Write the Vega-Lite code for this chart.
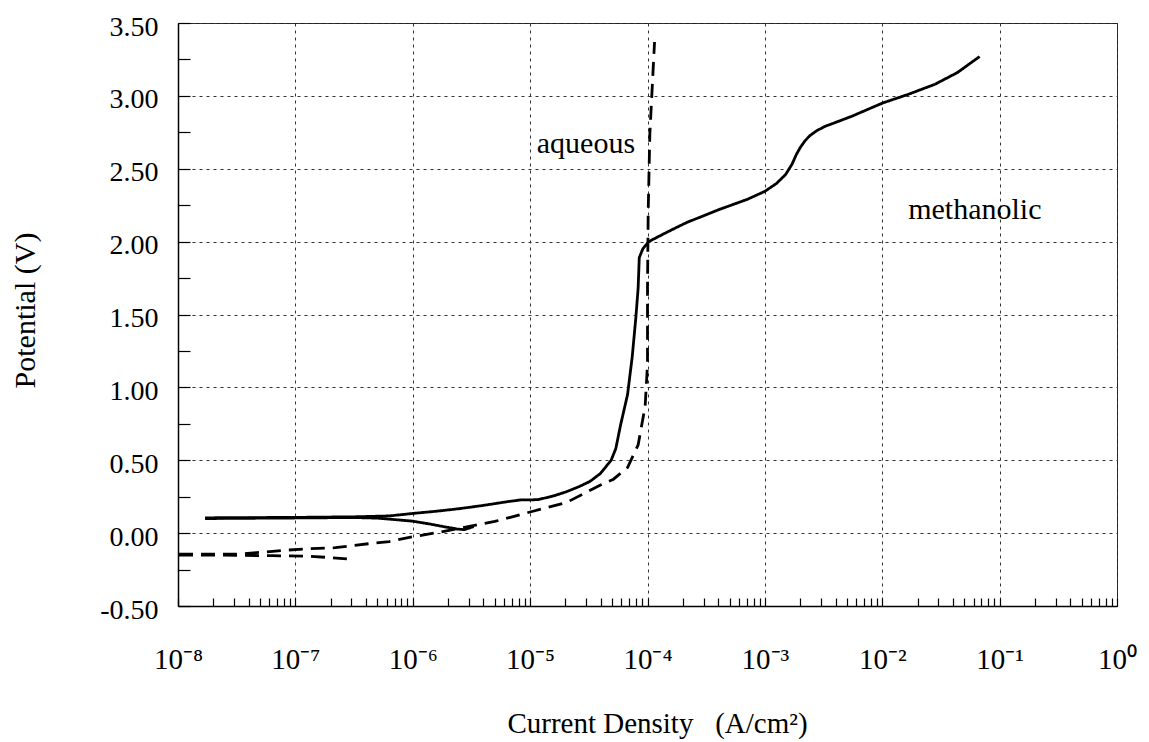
{
  "$schema": "https://vega.github.io/schema/vega-lite/v6.json",
  "width": 939,
  "height": 583,
  "autosize": {"type": "none"},
  "padding": {"left": 178, "top": 23, "right": 32, "bottom": 136},
  "background": "white",
  "config": {"font": "Liberation Serif", "view": {"stroke": "#222", "strokeWidth": 1}},
  "encoding": {
    "x": {
      "field": "current", "type": "quantitative",
      "scale": {"type": "log", "domain": [1e-8, 1], "nice": false},
      "axis": {
        "values": [1e-8,2e-8,3e-8,4e-8,5e-8,6e-8,7e-8,8e-8,9e-8,1e-7,2e-7,3e-7,4e-7,5e-7,6e-7,7e-7,8e-7,9e-7,1e-6,2e-6,3e-6,4e-6,5e-6,6e-6,7e-6,8e-6,9e-6,1e-5,2e-5,3e-5,4e-5,5e-5,6e-5,7e-5,8e-5,9e-5,1e-4,2e-4,3e-4,4e-4,5e-4,6e-4,7e-4,8e-4,9e-4,1e-3,2e-3,3e-3,4e-3,5e-3,6e-3,7e-3,8e-3,9e-3,1e-2,2e-2,3e-2,4e-2,5e-2,6e-2,7e-2,8e-2,9e-2,1e-1,2e-1,3e-1,4e-1,5e-1,6e-1,7e-1,8e-1,9e-1,1],
        "tickSize": -8, "tickColor": "black", "tickWidth": 1.2,
        "labelExpr": "abs(log(datum.value)/LN10 - round(log(datum.value)/LN10)) < 1e-6 ? '10' + (round(log(datum.value)/LN10) < 0 ? '⁻' : '') + ['⁰','¹','²','³','⁴','⁵','⁶','⁷','⁸','⁹'][abs(round(log(datum.value)/LN10))] : ''",
        "labelFontSize": 29, "labelBaseline": "alphabetic", "labelPadding": 70, "labelColor": "black",
        "labelFlush": false, "labelOverlap": false,
        "grid": true, "gridDash": [3, 4], "gridColor": "#333", "gridWidth": 1,
        "gridOpacity": {"condition": {"test": "abs(log(datum.value)/LN10 - round(log(datum.value)/LN10)) < 1e-6", "value": 1}, "value": 0},
        "domainColor": "black", "domainWidth": 1.5,
        "title": "Current Density\u00a0\u00a0\u00a0(A/cm²)",
        "titleFontSize": 29, "titleFontWeight": "normal", "titleColor": "black",
        "titleX": 479, "titleY": 126, "titleAlign": "center", "titleBaseline": "alphabetic"
      }
    },
    "y": {
      "field": "potential", "type": "quantitative",
      "scale": {"domain": [-0.5, 3.5], "nice": false, "zero": false},
      "axis": {
        "values": [-0.5,-0.25,0,0.25,0.5,0.75,1,1.25,1.5,1.75,2,2.25,2.5,2.75,3,3.25,3.5],
        "tickSize": -12, "tickColor": "black", "tickWidth": 1.2,
        "labelExpr": "(datum.value*4) % 2 == 0 ? (datum.value < 0 ? '-' : '') + format(abs(datum.value), '.2f') : ''",
        "labelFontSize": 28, "labelPadding": 32, "labelOffset": 4, "labelColor": "black",
        "labelFlush": false, "labelOverlap": false,
        "grid": true, "gridDash": [3, 4], "gridColor": "#333", "gridWidth": 1,
        "gridOpacity": {"condition": {"test": "(datum.value*4) % 2 == 0", "value": 1}, "value": 0},
        "domainColor": "black", "domainWidth": 1.5,
        "title": "Potential (V)",
        "titleFontSize": 30, "titleFontWeight": "normal", "titleColor": "black",
        "titleAngle": -90, "titleX": -153, "titleY": 287, "titleAlign": "center", "titleBaseline": "middle"
      }
    }
  },
  "layer": [
    {
      "data": {"values": [
        {"branch": "m1", "medium": "methanolic", "i": 1, "current": 1.70e-8, "potential": 0.105},
        {"branch": "m1", "medium": "methanolic", "i": 2, "current": 1.0e-7, "potential": 0.108},
        {"branch": "m1", "medium": "methanolic", "i": 3, "current": 3.16e-7, "potential": 0.112},
        {"branch": "m1", "medium": "methanolic", "i": 4, "current": 6.31e-7, "potential": 0.118},
        {"branch": "m1", "medium": "methanolic", "i": 5, "current": 1.0e-6, "potential": 0.135},
        {"branch": "m1", "medium": "methanolic", "i": 6, "current": 1.58e-6, "potential": 0.150},
        {"branch": "m1", "medium": "methanolic", "i": 7, "current": 2.51e-6, "potential": 0.168},
        {"branch": "m1", "medium": "methanolic", "i": 8, "current": 3.98e-6, "potential": 0.19},
        {"branch": "m1", "medium": "methanolic", "i": 9, "current": 6.31e-6, "potential": 0.215},
        {"branch": "m1", "medium": "methanolic", "i": 10, "current": 8.32e-6, "potential": 0.228},
        {"branch": "m1", "medium": "methanolic", "i": 11, "current": 1.0e-5, "potential": 0.228},
        {"branch": "m1", "medium": "methanolic", "i": 12, "current": 1.17e-5, "potential": 0.230},
        {"branch": "m1", "medium": "methanolic", "i": 13, "current": 1.58e-5, "potential": 0.255},
        {"branch": "m1", "medium": "methanolic", "i": 14, "current": 2.04e-5, "potential": 0.284},
        {"branch": "m1", "medium": "methanolic", "i": 15, "current": 2.63e-5, "potential": 0.32},
        {"branch": "m1", "medium": "methanolic", "i": 16, "current": 3.24e-5, "potential": 0.355},
        {"branch": "m1", "medium": "methanolic", "i": 17, "current": 3.98e-5, "potential": 0.41},
        {"branch": "m1", "medium": "methanolic", "i": 18, "current": 4.90e-5, "potential": 0.50},
        {"branch": "m1", "medium": "methanolic", "i": 19, "current": 5.37e-5, "potential": 0.58},
        {"branch": "m1", "medium": "methanolic", "i": 20, "current": 5.89e-5, "potential": 0.74},
        {"branch": "m1", "medium": "methanolic", "i": 21, "current": 6.76e-5, "potential": 0.95},
        {"branch": "m1", "medium": "methanolic", "i": 22, "current": 7.41e-5, "potential": 1.21},
        {"branch": "m1", "medium": "methanolic", "i": 23, "current": 7.94e-5, "potential": 1.47},
        {"branch": "m1", "medium": "methanolic", "i": 24, "current": 8.32e-5, "potential": 1.68},
        {"branch": "m1", "medium": "methanolic", "i": 25, "current": 8.51e-5, "potential": 1.89},
        {"branch": "m1", "medium": "methanolic", "i": 26, "current": 9.12e-5, "potential": 1.95},
        {"branch": "m1", "medium": "methanolic", "i": 27, "current": 1.023e-4, "potential": 2.00},
        {"branch": "m1", "medium": "methanolic", "i": 28, "current": 1.51e-4, "potential": 2.07},
        {"branch": "m1", "medium": "methanolic", "i": 29, "current": 2.14e-4, "potential": 2.13},
        {"branch": "m1", "medium": "methanolic", "i": 30, "current": 4.07e-4, "potential": 2.22},
        {"branch": "m1", "medium": "methanolic", "i": 31, "current": 7.08e-4, "potential": 2.29},
        {"branch": "m1", "medium": "methanolic", "i": 32, "current": 1.0e-3, "potential": 2.345},
        {"branch": "m1", "medium": "methanolic", "i": 33, "current": 1.26e-3, "potential": 2.40},
        {"branch": "m1", "medium": "methanolic", "i": 34, "current": 1.50e-3, "potential": 2.46},
        {"branch": "m1", "medium": "methanolic", "i": 35, "current": 1.70e-3, "potential": 2.53},
        {"branch": "m1", "medium": "methanolic", "i": 36, "current": 1.86e-3, "potential": 2.60},
        {"branch": "m1", "medium": "methanolic", "i": 37, "current": 2.0e-3, "potential": 2.645},
        {"branch": "m1", "medium": "methanolic", "i": 38, "current": 2.19e-3, "potential": 2.69},
        {"branch": "m1", "medium": "methanolic", "i": 39, "current": 2.40e-3, "potential": 2.725},
        {"branch": "m1", "medium": "methanolic", "i": 40, "current": 2.75e-3, "potential": 2.76},
        {"branch": "m1", "medium": "methanolic", "i": 41, "current": 3.24e-3, "potential": 2.79},
        {"branch": "m1", "medium": "methanolic", "i": 42, "current": 5.50e-3, "potential": 2.86},
        {"branch": "m1", "medium": "methanolic", "i": 43, "current": 1.0e-2, "potential": 2.95},
        {"branch": "m1", "medium": "methanolic", "i": 44, "current": 1.66e-2, "potential": 3.01},
        {"branch": "m1", "medium": "methanolic", "i": 45, "current": 2.82e-2, "potential": 3.08},
        {"branch": "m1", "medium": "methanolic", "i": 46, "current": 4.37e-2, "potential": 3.16},
        {"branch": "m1", "medium": "methanolic", "i": 47, "current": 6.76e-2, "potential": 3.27},

        {"branch": "m2", "medium": "methanolic", "i": 1, "current": 1.70e-8, "potential": 0.100},
        {"branch": "m2", "medium": "methanolic", "i": 2, "current": 1.0e-7, "potential": 0.104},
        {"branch": "m2", "medium": "methanolic", "i": 3, "current": 3.16e-7, "potential": 0.107},
        {"branch": "m2", "medium": "methanolic", "i": 4, "current": 5.01e-7, "potential": 0.103},
        {"branch": "m2", "medium": "methanolic", "i": 5, "current": 1.0e-6, "potential": 0.082},
        {"branch": "m2", "medium": "methanolic", "i": 6, "current": 1.41e-6, "potential": 0.062},
        {"branch": "m2", "medium": "methanolic", "i": 7, "current": 1.91e-6, "potential": 0.042},
        {"branch": "m2", "medium": "methanolic", "i": 8, "current": 2.40e-6, "potential": 0.028},
        {"branch": "m2", "medium": "methanolic", "i": 9, "current": 2.75e-6, "potential": 0.024},
        {"branch": "m2", "medium": "methanolic", "i": 10, "current": 3.31e-6, "potential": 0.045},

        {"branch": "a1", "medium": "aqueous", "i": 1, "current": 1.02e-8, "potential": -0.145},
        {"branch": "a1", "medium": "aqueous", "i": 2, "current": 3.16e-8, "potential": -0.145},
        {"branch": "a1", "medium": "aqueous", "i": 3, "current": 5.37e-8, "potential": -0.13},
        {"branch": "a1", "medium": "aqueous", "i": 4, "current": 7.94e-8, "potential": -0.118},
        {"branch": "a1", "medium": "aqueous", "i": 5, "current": 1.32e-7, "potential": -0.107},
        {"branch": "a1", "medium": "aqueous", "i": 6, "current": 2.19e-7, "potential": -0.100},
        {"branch": "a1", "medium": "aqueous", "i": 7, "current": 4.17e-7, "potential": -0.073},
        {"branch": "a1", "medium": "aqueous", "i": 8, "current": 6.31e-7, "potential": -0.058},
        {"branch": "a1", "medium": "aqueous", "i": 9, "current": 1.0e-6, "potential": -0.025},
        {"branch": "a1", "medium": "aqueous", "i": 10, "current": 1.70e-6, "potential": 0.007},
        {"branch": "a1", "medium": "aqueous", "i": 11, "current": 2.82e-6, "potential": 0.041},
        {"branch": "a1", "medium": "aqueous", "i": 12, "current": 5.01e-6, "potential": 0.08},
        {"branch": "a1", "medium": "aqueous", "i": 13, "current": 1.0e-5, "potential": 0.145},
        {"branch": "a1", "medium": "aqueous", "i": 14, "current": 2.04e-5, "potential": 0.21},
        {"branch": "a1", "medium": "aqueous", "i": 15, "current": 3.98e-5, "potential": 0.33},
        {"branch": "a1", "medium": "aqueous", "i": 16, "current": 5.13e-5, "potential": 0.37},
        {"branch": "a1", "medium": "aqueous", "i": 17, "current": 6.76e-5, "potential": 0.45},
        {"branch": "a1", "medium": "aqueous", "i": 18, "current": 8.32e-5, "potential": 0.605},
        {"branch": "a1", "medium": "aqueous", "i": 19, "current": 9.55e-5, "potential": 0.87},
        {"branch": "a1", "medium": "aqueous", "i": 20, "current": 1.0e-4, "potential": 1.16},
        {"branch": "a1", "medium": "aqueous", "i": 21, "current": 1.0e-4, "potential": 1.68},
        {"branch": "a1", "medium": "aqueous", "i": 22, "current": 1.014e-4, "potential": 2.21},
        {"branch": "a1", "medium": "aqueous", "i": 23, "current": 1.047e-4, "potential": 2.74},
        {"branch": "a1", "medium": "aqueous", "i": 24, "current": 1.148e-4, "potential": 3.37},

        {"branch": "a2", "medium": "aqueous", "i": 1, "current": 1.02e-8, "potential": -0.15},
        {"branch": "a2", "medium": "aqueous", "i": 2, "current": 3.16e-8, "potential": -0.152},
        {"branch": "a2", "medium": "aqueous", "i": 3, "current": 6.31e-8, "potential": -0.155},
        {"branch": "a2", "medium": "aqueous", "i": 4, "current": 1.26e-7, "potential": -0.158},
        {"branch": "a2", "medium": "aqueous", "i": 5, "current": 2.0e-7, "potential": -0.168},
        {"branch": "a2", "medium": "aqueous", "i": 6, "current": 3.02e-7, "potential": -0.18}
      ]},
      "mark": {"type": "line", "strokeWidth": 2.8, "color": "black"},
      "encoding": {
        "detail": {"field": "branch", "type": "nominal"},
        "strokeDash": {"field": "medium", "type": "nominal", "scale": {"domain": ["methanolic", "aqueous"], "range": [[1, 0], [14, 8]]}, "legend": null},
        "order": {"field": "i", "type": "quantitative"}
      }
    },
    {
      "data": {"values": [
        {"label": "aqueous", "current": 2.99e-5, "potential": 2.61},
        {"label": "methanolic", "current": 0.0615, "potential": 2.155}
      ]},
      "mark": {"type": "text", "fontSize": 30, "align": "center", "baseline": "alphabetic", "color": "black", "font": "Liberation Serif"},
      "encoding": {
        "text": {"field": "label", "type": "nominal"}
      }
    }
  ]
}
